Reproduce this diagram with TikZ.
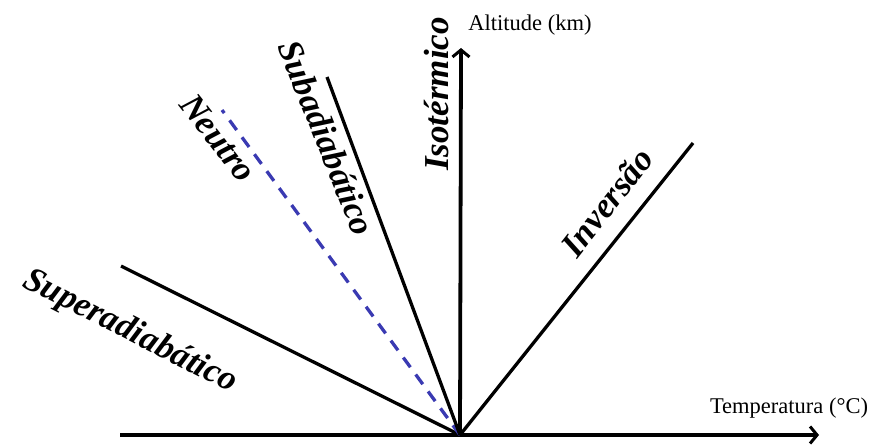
\documentclass[tikz,border=0pt]{standalone}
\usepackage{fontspec}
\setmainfont{Liberation Serif}
\definecolor{neutroBlue}{RGB}{58, 58, 178}
\usetikzlibrary{arrows.meta}
\tikzset{
  axisline/.style={line width=3.8pt, -{Straight Barb[length=7pt, width=17pt, line width=3pt]}},
  profile/.style={line width=3.3pt},
  proflabel/.style={font=\fontsize{35}{35}\selectfont\bfseries\itshape, inner sep=0pt},
  axislabel/.style={font=\fontsize{22.5}{22.5}\selectfont, inner sep=0pt}
}
\begin{document}
\begin{tikzpicture}[x=1pt, y=-1pt]
                \useasboundingbox (0,0) rectangle (877,444);
                \coordinate (origin) at (460,435);
                \coordinate (xend) at (819,435);
                \coordinate (yend) at (461,48);
                \coordinate (xstart) at (120,435);

                % axes
                \draw[axisline] (xstart) -- (xend);
                \draw[axisline] (origin) -- (yend);
                \node[axislabel] (tempLabel) at (789,408) {Temperatura (°C)};
                \node[axislabel] (altLabel) at (530,25) {Altitude (km)};

                % temperature profiles
                \coordinate (superEnd) at (121,266);
                \coordinate (neutroEnd) at (222,110);
                \coordinate (subEnd) at (327,77);
                \coordinate (invEnd) at (693,143);
                \draw[profile] (origin) -- (superEnd);
                \draw[profile, neutroBlue, dash pattern=on 12pt off 9pt] (origin) -- (neutroEnd);
                \draw[profile] (origin) -- (subEnd);
                \draw[profile] (origin) -- (invEnd);

                \node[proflabel, rotate=-27] (superLabel) at (130,332) {Superadiabático};
                \node[proflabel, rotate=-52] (neutroLabel) at (218,138) {Neutro};
                \node[proflabel, rotate=-68] (subLabel) at (327,138) {Subadiabático};
                \node[proflabel, rotate=90] (isoLabel) at (437,94) {Isotérmico};
                \node[proflabel, rotate=52] (invLabel) at (607,202) {Inversão};
            \end{tikzpicture}
\end{document}
